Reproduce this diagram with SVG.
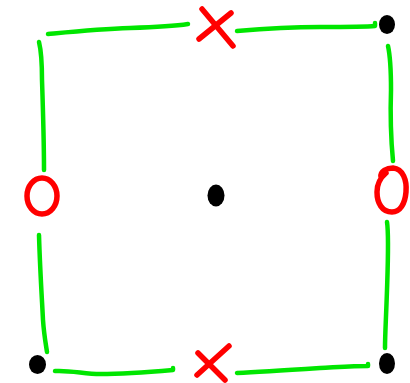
<svg xmlns="http://www.w3.org/2000/svg" width="410" height="383" viewBox="0 0 410 383">
<style>
.g{fill:none;stroke:#00e600;stroke-width:4.5;stroke-linecap:round;stroke-linejoin:round}
.r{fill:none;stroke:#ff0000;stroke-width:5.5;stroke-linecap:round;stroke-linejoin:round}
.d{fill:#000000}
</style>
<rect width="410" height="383" fill="#ffffff"/>
<g id="connectors">
<path class="g" d="M48,34 C80,31 100,29 130,28 C160,27 175,26 188,24"/>
<path class="g" d="M237,31 C260,29 290,27 320,27 C345,27 365,27 375,26 L375,23"/>
<path class="g" d="M39,42 C41,50 42,60 42,80 C43,110 44,140 44,170"/>
<path class="g" d="M388,46 C390,55 391,67 391,90 C390,120 391,140 393,161"/>
<path class="g" d="M39,235 C40,270 42,300 43,320 C44,335 46,345 47,352"/>
<path class="g" d="M387,222 C389,235 388,260 387,290 C386,320 385,335 385,348"/>
<path class="g" d="M55,371 C70,370 85,374 100,374 C125,374 150,372 173,370 L173,368"/>
<path class="g" d="M237,373 C260,372 290,370 320,368 C340,367 355,366 368,366 L368,364"/>
</g>
<g id="x-top">
<path class="r" d="M202,9 L233,46"/>
<path class="r" d="M231,13 L199,39"/>
</g>
<g id="x-bottom">
<path class="r" d="M198,353 L225,380"/>
<path class="r" d="M229,346 L197,375"/>
</g>
<g id="circle-left">
<ellipse class="r" cx="42" cy="196" rx="15" ry="18"/>
</g>
<g id="circle-right">
<path class="r" d="M381,177 C380,171 387,168 393,168 C403,169 407,180 406,192 C405,204 400,212 392,212 C382,212 377,203 377,192 C377,184 380,178 386,173"/>
</g>
<g id="dot-top-right"><ellipse class="d" cx="387" cy="24.5" rx="8" ry="9.5"/></g>
<g id="dot-center"><ellipse class="d" cx="216" cy="195.5" rx="8.5" ry="11"/></g>
<g id="dot-bottom-left"><ellipse class="d" cx="37.5" cy="364.5" rx="8.5" ry="9.5"/></g>
<g id="dot-bottom-right"><ellipse class="d" cx="387" cy="363.5" rx="8" ry="10.5"/></g>
</svg>
